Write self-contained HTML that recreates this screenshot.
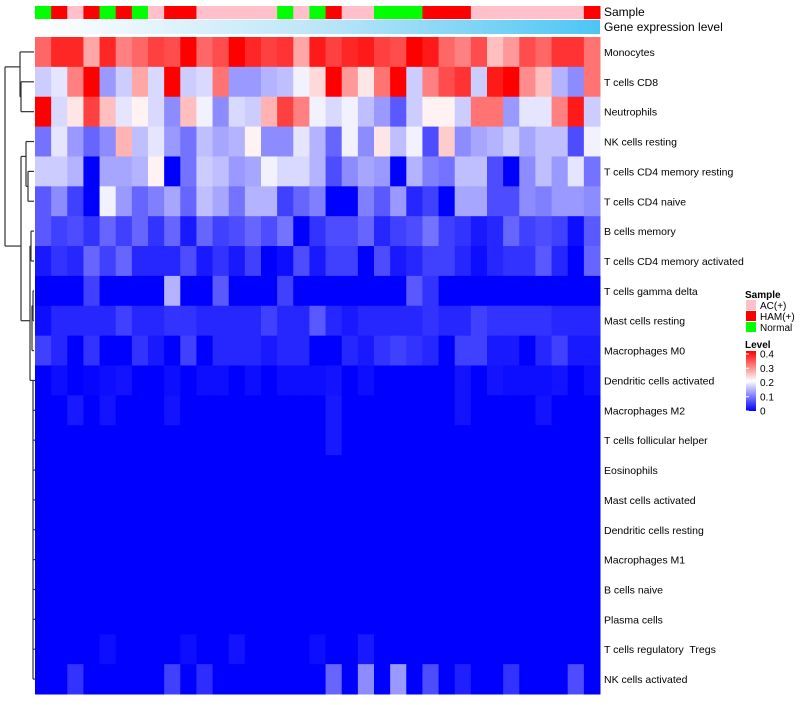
<!DOCTYPE html>
<html><head><meta charset="utf-8"><style>
body{margin:0;background:#fff;}
svg text{font-family:"Liberation Sans",Arial,sans-serif;white-space:pre;}
</style></head><body>
<svg id="chart" width="800" height="700" xmlns="http://www.w3.org/2000/svg">
<defs>
<linearGradient id="geneGrad" x1="0" x2="1" y1="0" y2="0"><stop offset="0" stop-color="#ffffff"/><stop offset="0.5" stop-color="#bde6f8"/><stop offset="1" stop-color="#4cc6f4"/></linearGradient>
<linearGradient id="levelGrad" x1="0" x2="0" y1="1" y2="0"><stop offset="0" stop-color="#0000ff"/><stop offset="0.5" stop-color="#ffffff"/><stop offset="1" stop-color="#ff0000"/></linearGradient>
</defs>
<g id="dendro" stroke="#333" stroke-width="1.2" fill="none"></g>
<g id="sampleBar"></g>
<rect x="35" y="20" width="565" height="14" fill="url(#geneGrad)"/>
<text x="604" y="16" font-size="12">Sample</text>
<text x="604" y="31" font-size="12">Gene expression level</text>
<g id="cells"></g>
<g id="rowLabels"></g>
<g>
<text x="745" y="298" font-size="10" font-weight="bold">Sample</text>
<rect x="746" y="300" width="10" height="10" fill="#ffc0cb"/>
<text x="760" y="309" font-size="10">AC(+)</text>
<rect x="746" y="311" width="10" height="10" fill="#ff0000"/>
<text x="760" y="320" font-size="10">HAM(+)</text>
<rect x="746" y="322" width="10" height="10" fill="#00ff00"/>
<text x="760" y="331" font-size="10">Normal</text>
<text x="745" y="348" font-size="10" font-weight="bold">Level</text>
<rect x="746" y="351" width="10" height="60" fill="url(#levelGrad)"/>
<g id="levelTicks" font-size="10"></g>
</g>
</svg>
<script>
const rowNames=["Monocytes","T cells CD8","Neutrophils","NK cells resting","T cells CD4 memory resting","T cells CD4 naive","B cells memory","T cells CD4 memory activated","T cells gamma delta","Mast cells resting","Macrophages M0","Dendritic cells activated","Macrophages M2","T cells follicular helper","Eosinophils","Mast cells activated","Dendritic cells resting","Macrophages M1","B cells naive","Plasma cells","T cells regulatory  Tregs","NK cells activated"];
const sampleGroups=["Normal","HAM","AC","HAM","Normal","HAM","Normal","AC","HAM","HAM","AC","AC","AC","AC","AC","Normal","AC","Normal","HAM","AC","AC","Normal","Normal","Normal","HAM","HAM","HAM","AC","AC","AC","AC","AC","AC","AC","HAM"];
const levelTicks=[0,0.1,0.2,0.3,0.4];
const z=Array(35).fill(0);
const rMono=[0.32,0.37,0.37,0.27,0.37,0.3,0.32,0.35,0.34,0.4,0.32,0.34,0.4,0.37,0.35,0.36,0.27,0.38,0.35,0.37,0.38,0.35,0.34,0.4,0.38,0.32,0.3,0.34,0.25,0.28,0.34,0.32,0.36,0.36,0.31];
const rCD8=[0.16,0.18,0.3,0.4,0.12,0.16,0.27,0.17,0.4,0.16,0.17,0.31,0.12,0.12,0.14,0.15,0.19,0.23,0.4,0.28,0.22,0.31,0.4,0.16,0.3,0.34,0.36,0.16,0.38,0.4,0.29,0.25,0.14,0.11,0.31];
const rNeut=[0.4,0.17,0.22,0.35,0.25,0.18,0.21,0.17,0.11,0.25,0.19,0.11,0.17,0.16,0.26,0.35,0.3,0.19,0.17,0.19,0.15,0.12,0.07,0.16,0.21,0.21,0.16,0.31,0.31,0.12,0.18,0.18,0.3,0.38,0.16];
const rNKr=[0.09,0.18,0.12,0.08,0.11,0.26,0.15,0.18,0.12,0.09,0.15,0.13,0.14,0.21,0.11,0.11,0.18,0.14,0.08,0.19,0.11,0.22,0.15,0.19,0.06,0.24,0.11,0.13,0.14,0.16,0.13,0.15,0.15,0.06,0.19];
const rCD4mr=[0.16,0.16,0.14,0,0.13,0.13,0.14,0.21,0,0.09,0.16,0.15,0.12,0.13,0.19,0.17,0.17,0.14,0.06,0.11,0.13,0.12,0,0.14,0.1,0.09,0.15,0.15,0.06,0,0.11,0.15,0.12,0.18,0.09];
const rCD4n=[0.07,0.11,0.05,0,0.19,0.12,0.08,0.1,0.13,0.08,0.15,0.13,0.09,0.14,0.14,0.05,0.08,0.1,0,0,0.1,0.07,0.12,0.03,0.05,0,0.13,0.13,0.06,0.06,0.11,0.1,0.12,0.12,0.11];
const rBmem=[0.07,0.05,0.06,0.04,0.08,0.05,0.08,0.04,0.08,0.02,0.08,0.05,0.06,0.08,0.06,0.09,0,0.04,0.06,0.06,0.08,0.03,0.05,0.06,0.09,0.05,0.04,0.02,0.03,0.08,0.05,0.06,0.05,0.01,0.07];
const rCD4ma=[0.02,0.04,0.03,0.08,0.05,0.08,0.03,0.03,0.03,0.06,0.02,0.04,0.02,0.05,0,0.01,0.06,0.02,0.05,0.05,0,0.06,0.02,0.03,0.05,0.05,0.03,0.01,0.03,0.04,0.04,0.07,0.03,0,0.08];
const rGd=[0,0,0,0.05,0,0,0,0,0.14,0,0,0.07,0,0,0,0.05,0,0,0,0,0,0,0,0.07,0.04,0,0,0,0,0,0,0,0,0,0];
const rMastR=[0.01,0.03,0.03,0.03,0.03,0.05,0.03,0.03,0.04,0.04,0.03,0.03,0.03,0.03,0.05,0.03,0.03,0.07,0.03,0.02,0.03,0.03,0.03,0.03,0.04,0.03,0.03,0.05,0.04,0.04,0.04,0.04,0.03,0.03,0.03];
const rM0=[0.05,0.03,0,0.04,0,0,0.04,0.02,0,0.05,0,0.03,0.03,0.03,0.02,0.03,0.03,0,0,0.03,0.02,0.04,0.05,0.04,0.03,0,0.05,0.05,0.02,0.02,0,0.03,0.05,0.02,0.02];
const rDCa=[0,0.01,0,0.005,0.01,0.015,0,0,0.01,0,0.01,0.01,0,0.01,0,0.01,0.01,0.01,0.015,0,0.01,0,0,0,0,0,0.015,0,0.015,0.01,0.01,0.01,0.015,0,0.01];
const rM2=[0,0,0.02,0,0.015,0,0,0,0.015,0,0,0,0,0,0,0,0,0,0.02,0,0,0,0,0,0,0,0.015,0,0,0,0,0.015,0,0,0];
const rTfh=[0,0,0,0,0,0,0,0,0,0,0,0,0,0,0,0,0,0,0.02,0,0,0,0,0,0,0,0,0,0,0,0,0,0,0,0];
const rTreg=[0,0,0,0,0.01,0,0,0,0,0.01,0,0,0.015,0,0,0,0,0.01,0,0,0.02,0,0,0,0,0,0,0,0,0,0,0,0,0,0];
const rNKa=[0,0,0.04,0,0,0,0,0,0.05,0,0.035,0,0,0,0,0,0,0,0.08,0,0.11,0,0.12,0,0.06,0,0.025,0,0,0.04,0,0,0,0.06,0];
const matrix=[rMono,rCD8,rNeut,rNKr,rCD4mr,rCD4n,rBmem,rCD4ma,rGd,rMastR,rM0,rDCa,rM2,rTfh,z,z,z,z,z,z,rTreg,rNKa];
const NS="http://www.w3.org/2000/svg";
const X0=35,W=565,Y0=37,H=657;
const cw=W/35, rh=H/rowNames.length;
const xScale=i=>X0+i*cw;
const yScale=r=>Y0+r*rh;
const groupColor={AC:"#ffc0cb",HAM:"#ff0000",Normal:"#00ff00"};
function color(v){
  let t=Math.max(0,Math.min(1,v/0.4));
  let r,g,b;
  if(t<0.5){const s=t/0.5;r=255*s;g=255*s;b=255;}
  else{const s=(t-0.5)/0.5;r=255;g=255*(1-s);b=255*(1-s);}
  return `rgb(${Math.round(r)},${Math.round(g)},${Math.round(b)})`;
}
const cells=document.getElementById('cells');
matrix.forEach((row,r)=>{row.forEach((v,c)=>{
  const el=document.createElementNS(NS,'rect');
  el.setAttribute('x',xScale(c));el.setAttribute('y',yScale(r));
  el.setAttribute('width',cw+0.5);el.setAttribute('height',rh+0.5);
  el.setAttribute('fill',color(v));
  
  
  cells.appendChild(el);
});});
const sb=document.getElementById('sampleBar');
sampleGroups.forEach((g,c)=>{
  const el=document.createElementNS(NS,'rect');
  el.setAttribute('x',xScale(c));el.setAttribute('y',6);
  el.setAttribute('width',cw+0.5);el.setAttribute('height',13);
  el.setAttribute('fill',groupColor[g]);
  
  
  sb.appendChild(el);
});
const rl=document.getElementById('rowLabels');
rowNames.forEach((n,r)=>{
  const t=document.createElementNS(NS,'text');
  t.setAttribute('x',604);t.setAttribute('y',yScale(r)+rh/2+4);
  t.setAttribute('font-size','10.5');
  t.textContent=n;
  
  
  rl.appendChild(t);
});
const lt=document.getElementById('levelTicks');
levelTicks.forEach(v=>{
  const y=411-v/0.4*57;
  const t=document.createElementNS(NS,'text');
  t.setAttribute('x',760);t.setAttribute('y',y+3.5);
  t.textContent=String(v);
  
  
  lt.appendChild(t);
  const l=document.createElementNS(NS,'line');
  l.setAttribute('x1',746);l.setAttribute('x2',749);l.setAttribute('y1',y);l.setAttribute('y2',y);
  l.setAttribute('stroke','#fff');
  
  
  lt.appendChild(l);
});
const d=document.getElementById('dendro');
const cy=r=>yScale(r)+rh/2;
const segs=[
 [21,cy(1),34,cy(1)],[21,cy(2),34,cy(2)],[21,cy(1),21,cy(2)],
 [20,cy(0),34,cy(0)],[20,cy(0),20,(cy(1)+cy(2))/2],[20,(cy(1)+cy(2))/2,21,(cy(1)+cy(2))/2],
 [28,cy(4),34,cy(4)],[28,cy(5),34,cy(5)],[28,cy(4),28,cy(5)],
 [26,cy(3),34,cy(3)],[26,cy(3),26,(cy(4)+cy(5))/2],[26,(cy(4)+cy(5))/2,28,(cy(4)+cy(5))/2],
 [21,(cy(3)+cy(4))/2,26,(cy(3)+cy(4))/2],
 [31,cy(6),34,cy(6)],[31,cy(7),34,cy(7)],[31,cy(6),31,cy(7)],
 [33,cy(8),34,cy(8)],[33,cy(9),34,cy(9)],[33,cy(8),33,cy(9)],
 [32,cy(10),34,cy(10)],[32,(cy(8)+cy(9))/2,32,cy(10)],[32,(cy(8)+cy(9))/2,33,(cy(8)+cy(9))/2],
 [30,(cy(6)+cy(7))/2,30,cy(11)],[30,(cy(6)+cy(7))/2,31,(cy(6)+cy(7))/2],
 [21,(cy(3)+cy(4))/2,21,cy(9)],[21,cy(9),30,cy(9)],
 [5,(cy(0)+cy(1))/2,5,(cy(6)+cy(7))/2],[5,(cy(0)+cy(1))/2,20,(cy(0)+cy(1))/2],[5,(cy(6)+cy(7))/2,21,(cy(6)+cy(7))/2]
];
for(let r=11;r<22;r++){segs.push([33,cy(r),35,cy(r)]);}
segs.push([33,cy(11),33,cy(21)],[30,cy(11),33,cy(11)]);
segs.forEach(s=>{
  const l=document.createElementNS(NS,'line');
  l.setAttribute('x1',s[0]);l.setAttribute('y1',s[1]);l.setAttribute('x2',s[2]);l.setAttribute('y2',s[3]);
  
  
  d.appendChild(l);
});
</script>
</body></html>
